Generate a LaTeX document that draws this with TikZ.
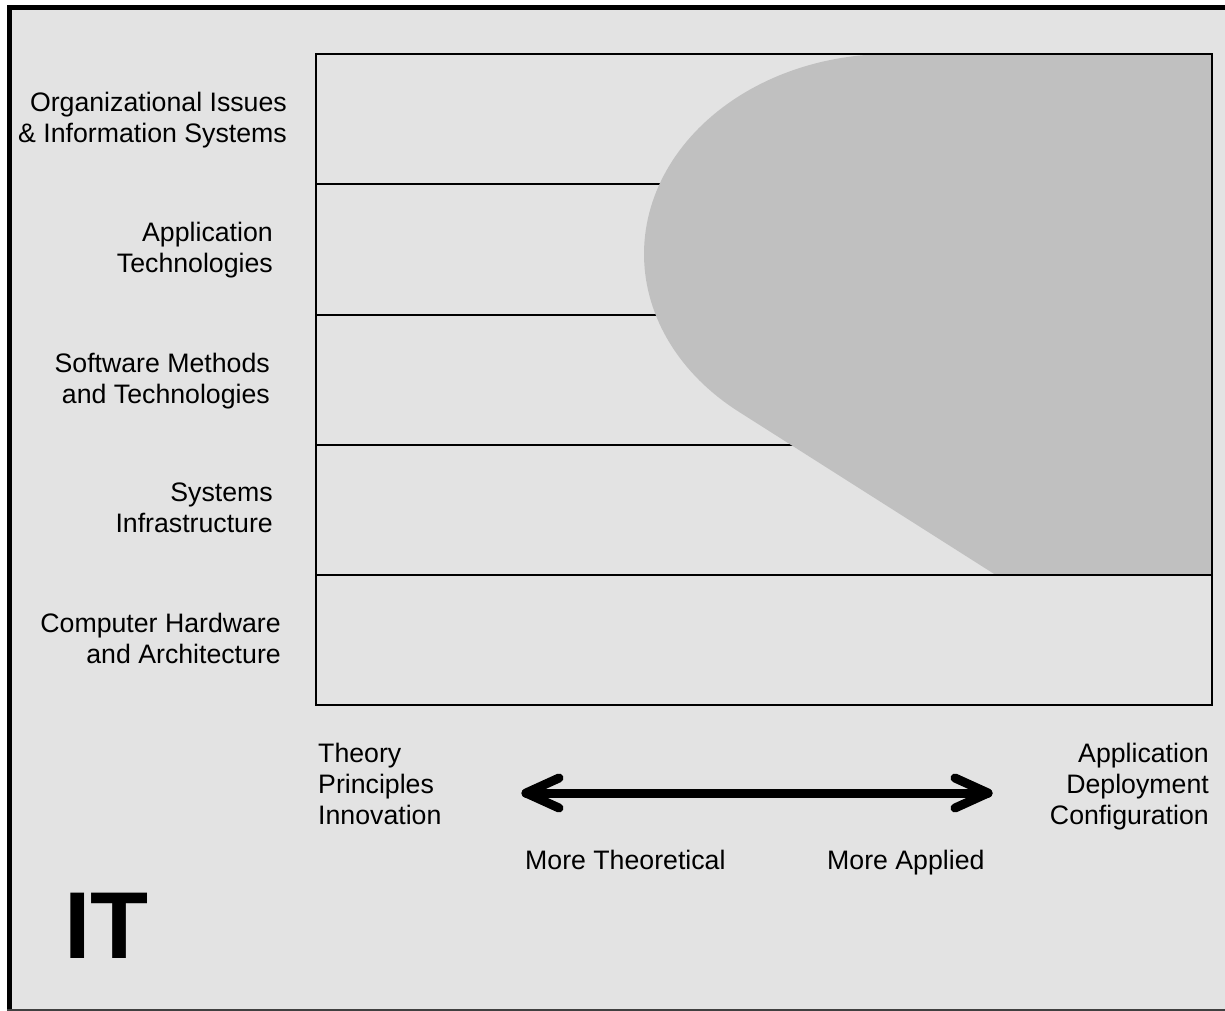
\documentclass[tikz,border=0pt]{standalone}
\usepackage{fontspec}
\setmainfont{Liberation Sans}
\usetikzlibrary{calc}
\definecolor{panel}{RGB}{227,227,227}
\definecolor{band}{RGB}{192,192,192}
\definecolor{edge}{RGB}{64,64,64}

\begin{document}
\begin{tikzpicture}[x=1pt,y=-1pt,
  lbl/.style={inner sep=0pt, font=\fontsize{26.7}{31}\selectfont},
  rule/.style={line width=2pt, black},
  scalearrow/.style={line width=9pt, line cap=round, line join=round, black}]
\useasboundingbox (0,0) rectangle (1225,1011);

% frame and backdrop
\fill[white] (0,0) rectangle (1225,1011);
\fill[panel] (7,5) rectangle (1225,1011);
\fill[black] (7,5) rectangle (12,1011);
\fill[black] (7,5) rectangle (1225,10);
\draw[edge, line width=1.5pt] (7,1010) -- (1225,1010);

% row separators of the layer chart
\foreach \yy in {184,315,445}
  \draw[rule] (316,\yy) -- (1212,\yy);

% shaded region of the discipline
\fill[band] (1212,575) -- (995.8,575)
  -- plot[domain=128:270, samples=90, variable=\t]
     ({890+246*cos(\t)},{254+200*sin(\t)})
  -- (1212,54) -- cycle;

% outline of the chart
\draw[rule] (316,575) -- (1212,575);
\draw[rule] (316,54) rectangle (1212,705);

% layer labels
\node[lbl, align=right, anchor=north east] (org) at (287,92)
  {Organizational Issues\\\& Information Systems};
\node[lbl, align=right, anchor=north east] (apt) at (273,222)
  {Application\\Technologies};
\node[lbl, align=right, anchor=north east] (swm) at (270,353)
  {Software Methods\\and Technologies};
\node[lbl, align=right, anchor=north east] (sys) at (273,483)
  {Systems\\Infrastructure};
\node[lbl, align=right, anchor=north east] (hw) at (281,613)
  {Computer Hardware\\and Architecture};

% axis labels
\node[lbl, align=left, anchor=north west] (theo) at (318,743)
  {Theory\\Principles\\Innovation};
\node[lbl, align=right, anchor=north east] (appl) at (1209,743)
  {Application\\Deployment\\Configuration};
\node[lbl, anchor=base west] (moret) at (525,869) {More Theoretical};
\node[lbl, anchor=base west] (morea) at (827,869) {More Applied};

% double-headed scale arrow
\coordinate (lt) at (526,793);
\coordinate (rt) at (988,793);
\draw[scalearrow] (lt) -- (rt);
\draw[scalearrow] ($(lt)+(33,-15)$) -- (lt) -- ($(lt)+(33,15)$);
\draw[scalearrow] ($(rt)+(-33,-15)$) -- (rt) -- ($(rt)+(-33,15)$);

% discipline tag
\node[inner sep=0pt, anchor=base west, font=\fontsize{95}{95}\selectfont\bfseries] (it) at (64,958) {IT};
\end{tikzpicture}
\end{document}
